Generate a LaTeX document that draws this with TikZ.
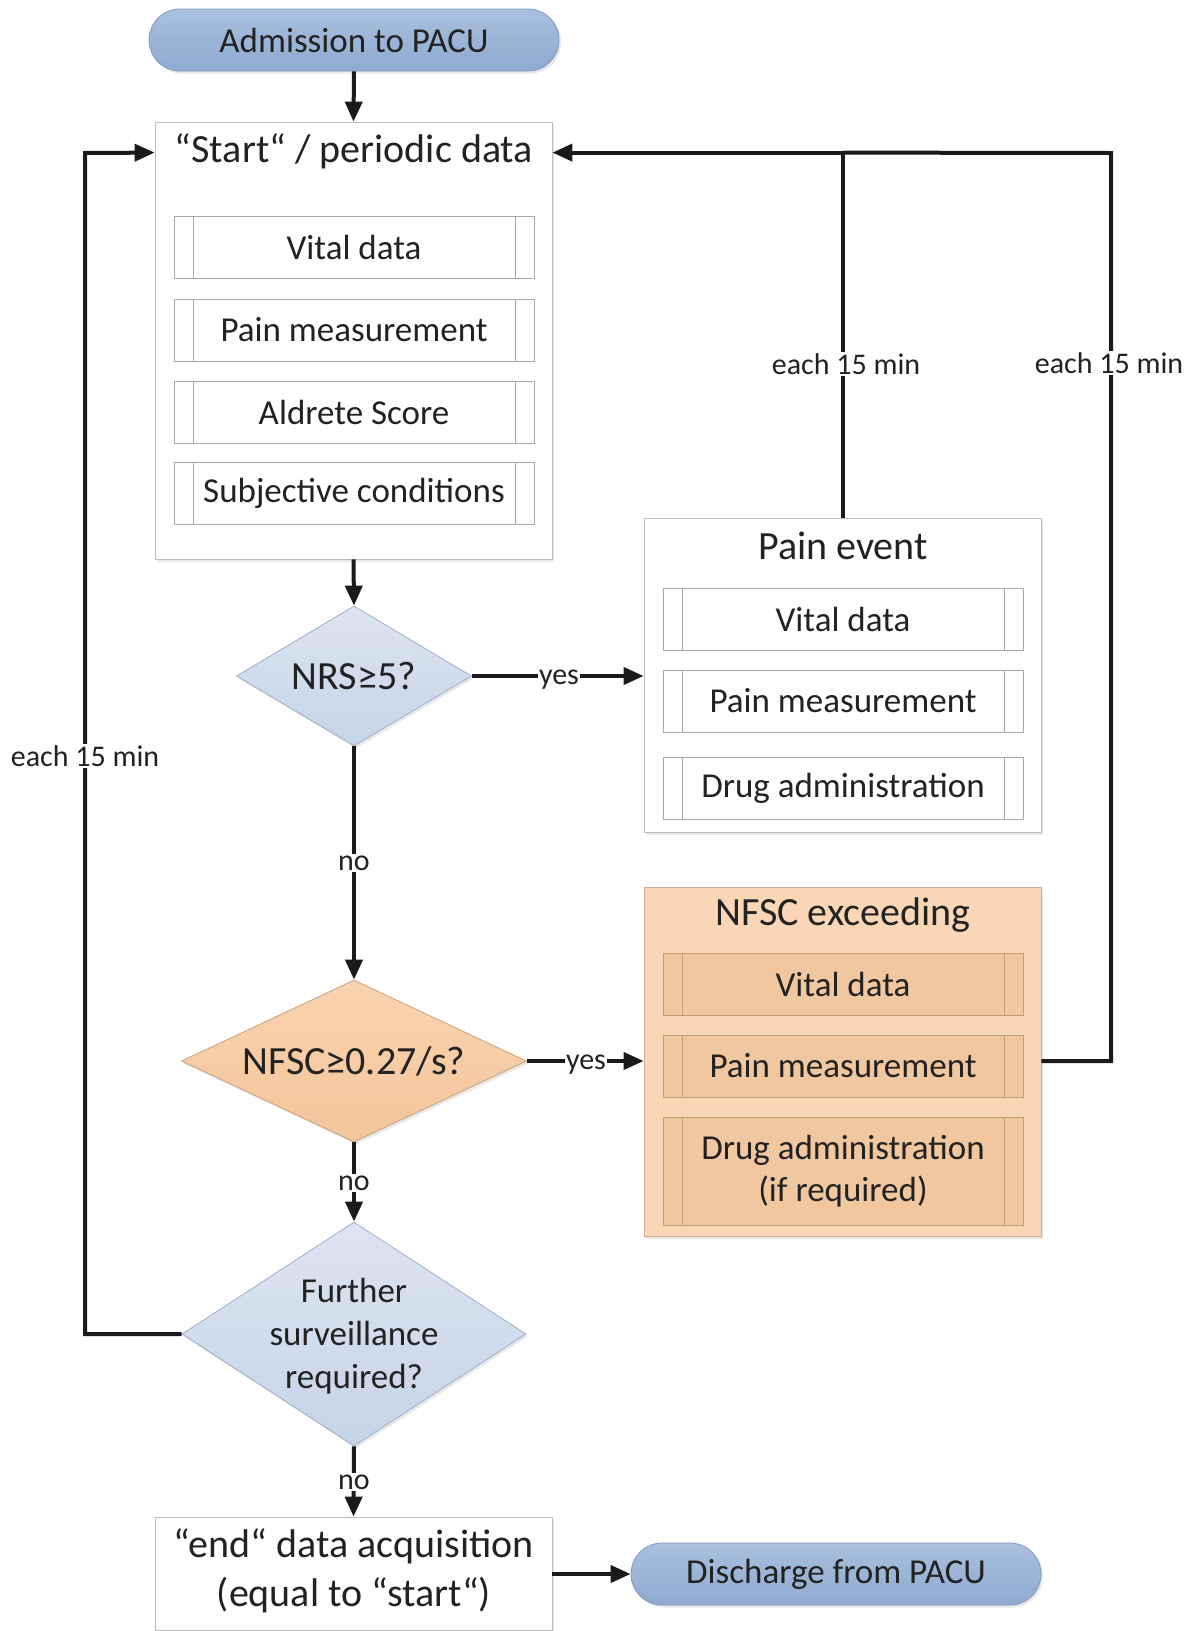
\documentclass[tikz,border=0pt]{standalone}
\usepackage{fontspec}
\setmainfont{Carlito}
\usetikzlibrary{shapes.geometric,arrows.meta,calc,shadows}
\definecolor{txtc}{HTML}{222222}
\definecolor{linec}{HTML}{1A1A1A}
\definecolor{termb}{HTML}{7F9AC0}
\definecolor{termt}{HTML}{A9C0DE}
\definecolor{termbt}{HTML}{8EAAD0}
\definecolor{boxb}{HTML}{BDBDBD}
\definecolor{subb}{HTML}{A8A8A8}
\definecolor{bdiat}{HTML}{DCE5F1}
\definecolor{bdiab}{HTML}{C6D4E7}
\definecolor{bdiab2}{HTML}{9DB0C8}
\definecolor{odiat}{HTML}{F9D3AF}
\definecolor{odiab}{HTML}{F4C59B}
\definecolor{odiabd}{HTML}{C9A07A}
\definecolor{obox}{HTML}{F9D7B6}
\definecolor{oboxb}{HTML}{D4AE8A}
\definecolor{osub}{HTML}{F1C7A0}
\definecolor{osubb}{HTML}{C29C79}
\newcommand\szbig{\fontsize{40}{49}\selectfont}
\newcommand\szmid{\fontsize{35}{42}\selectfont}
\newcommand\szlbl{\fontsize{30}{36}\selectfont}
\begin{document}
\begin{tikzpicture}[x=1pt,y=-1pt,
  every node/.style={text=txtc, inner sep=0pt},
  lw/.style={line width=4pt, draw=linec},
  conn/.style={lw, -{Triangle[length=20pt,width=17pt]}},
  shad/.style={drop shadow={opacity=0.18, shadow xshift=2pt, shadow yshift=-2.5pt}},
  term/.style={draw=termb, line width=0.8pt, rounded corners=31pt, minimum width=410pt, minimum height=62pt, top color=termt, bottom color=termbt, font=\szmid, shad},
  bigbox/.style={draw=boxb, line width=0.8pt, minimum width=397pt, shad},
  sub/.style={draw=#1, line width=0.8pt, minimum width=360pt, minimum height=62pt, font=\szmid, align=center,
    path picture={
      \draw[#1, line width=0.8pt] ([xshift=19pt]path picture bounding box.north west) -- ([xshift=19pt]path picture bounding box.south west);
      \draw[#1, line width=0.8pt] ([xshift=-19pt]path picture bounding box.north east) -- ([xshift=-19pt]path picture bounding box.south east);}},
  sub/.default=subb,
  dia/.style={diamond, line width=0.8pt, shad},
  ttl/.style={font=\szbig},
  lbl/.style={font=\szlbl, fill=white, inner sep=1.5pt}
]
\useasboundingbox (0,0) rectangle (1189,1631);
\fill[white] (0,0) rectangle (1189,1631);

% Admission
\node[term] (adm) at (354,40) {Admission to PACU};

% Start box
\node[bigbox, fill=white, minimum height=437pt] (start) at (353.5,340.5) {};
\node[ttl] (startt) at (354,151) {“Start“ / periodic data};
\node[sub, fill=white] (s1) at (354,247.5) {Vital data};
\node[sub, fill=white] (s2) at (354,330) {Pain measurement};
\node[sub, fill=white] (s3) at (354,412) {Aldrete Score};
\node[sub, fill=white] (s4) at (354,493) {Subjective conditions};

% NRS diamond
\node[dia, draw=bdiab2, top color=bdiat, bottom color=bdiab, minimum width=235pt, minimum height=140pt] (nrs) at (354,676) {};
\node[ttl] (nrst) at (nrs.center) {NRS≥5?};

% Pain event box
\node[bigbox, fill=white, minimum height=314pt] (pain) at (842.5,675) {};
\node[ttl] (paint) at (843,546) {Pain event};
\node[sub, fill=white] (p1) at (843,619) {Vital data};
\node[sub, fill=white] (p2) at (843,701) {Pain measurement};
\node[sub, fill=white] (p3) at (843,788.5) {Drug administration};

% NFSC diamond
\node[dia, draw=odiabd, top color=odiat, bottom color=odiab, minimum width=345pt, minimum height=162pt] (nfsc) at (354,1061) {};
\node[ttl] (nfsct) at (nfsc.center) {NFSC≥0.27/s?};

% NFSC box
\node[bigbox, draw=oboxb, fill=obox, minimum height=349pt] (nbox) at (842.5,1061.5) {};
\node[ttl] (nboxt) at (843,915) {NFSC exceeding};
\node[sub=osubb, fill=osub] (n1) at (843,984) {Vital data};
\node[sub=osubb, fill=osub] (n2) at (843,1066) {Pain measurement};
\node[sub=osubb, fill=osub, minimum height=108pt] (n3) at (843,1171) {Drug administration\\(if required)};

% Further diamond
\node[dia, draw=bdiab2, top color=bdiat, bottom color=bdiab, minimum width=344pt, minimum height=224pt] (fur) at (354,1334) {};
\node[font=\fontsize{35}{43}\selectfont, align=center] (furt) at (354,1336) {Further\\surveillance\\required?};

% End box
\node[bigbox, fill=white, minimum height=113pt] (endb) at (353.5,1573.5) {};
\node[font=\szbig, align=center] (endt) at (354,1571) {“end“ data acquisition\\(equal to “start“)};

% Discharge
\node[term] (dis) at (836,1574) {Discharge from PACU};

% coordinates
\coordinate (sR) at ($(start.north east)+(0,31)$);
\coordinate (sL) at ($(start.north west)+(0,31)$);
\coordinate (rc) at (1111,153);
\coordinate (lc) at (85,153);

% connectors
\draw[conn] (adm.south) -- (start.north);
\draw[conn] (start.south) -- (nrs.north);
\draw[conn] (nrs.south) -- (nfsc.north);
\draw[conn] (nfsc.south) -- (fur.north);
\draw[conn] (fur.south) -- (endb.north);
\draw[conn] (nrs.east) -- (pain.west |- nrs.east);
\draw[conn] (nfsc.east) -- (nbox.west |- nfsc.east);
\draw[conn] (endb.east |- dis.west) -- (dis.west);
\draw[lw] (nbox.east |- nfsc.east) -| (rc) -- (pain.north |- sR);
\draw[conn] (pain.north) -- (pain.north |- sR) -- (sR);
\draw[conn] (fur.west) -| (lc) -- (sL);

% labels
\node[lbl] (l1) at (846,364) {each 15 min};
\node[lbl] (l2) at (1109,363) {each 15 min};
\node[lbl] (l3) at (85,756) {each 15 min};
\node[lbl, anchor=base] (y1) at (559,684) {yes};
\node[lbl, anchor=base] (y2) at (586,1069) {yes};
\node[lbl] (n1l) at (354,863) {no};
\node[lbl] (n2l) at (354,1183) {no};
\node[lbl] (n3l) at (354,1482) {no};
\end{tikzpicture}
\end{document}
